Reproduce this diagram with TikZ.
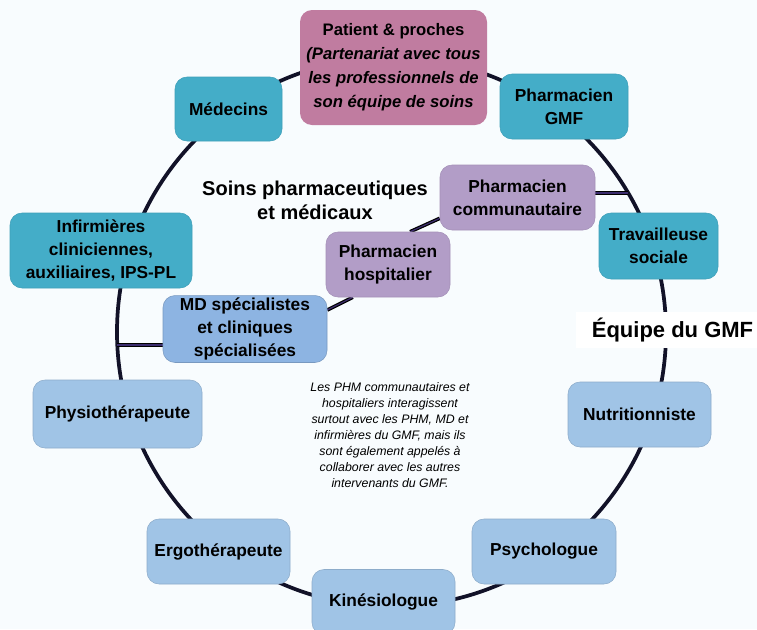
\documentclass[tikz,border=0pt]{standalone}
\usepackage{fontspec}
\setmainfont{Liberation Sans}
\usetikzlibrary{backgrounds}
\definecolor{pagebg}{RGB}{248,252,254}
\definecolor{gmfteal}{RGB}{68,173,200}
\definecolor{patientrose}{RGB}{192,124,160}
\definecolor{pharmpurple}{RGB}{178,157,199}
\definecolor{specblue}{RGB}{141,180,226}
\definecolor{alliedblue}{RGB}{160,196,230}
\definecolor{ringnavy}{RGB}{18,18,40}
\definecolor{linkpurple}{RGB}{60,45,110}
\begin{document}
\begin{tikzpicture} [
                x=0.75pt, y=-0.75pt,
                box/.style={rectangle,rounded corners=9pt,align=center,inner sep=2pt,
                    font=\bfseries\fontsize{13}{17}\selectfont},
                gmf/.style={box,fill=gmfteal,draw=gmfteal!92!black,line width=0.4pt},
                pharm/.style={box,fill=pharmpurple,draw=pharmpurple!92!black,line width=0.4pt},
                spec/.style={box,fill=specblue,draw=specblue!85!black,line width=0.4pt},
                allied/.style={box,fill=alliedblue,draw=alliedblue!88!black,line width=0.4pt},
                ring/.style={draw=ringnavy,line width=2.8pt},
                link/.style={draw=black,line width=0.9pt,double=linkpurple,double distance=0.9pt},
            ]
            \useasboundingbox (0,0) rectangle (757,629);
            % Patient in the middle of the team
            \node[box,fill=patientrose,minimum width=140.25pt,minimum height=86.25pt,
                font=\bfseries\fontsize{12.5}{18}\selectfont] (patient) at (393.5,67.5)
                {Patient \& proches\\\textit{(Partenariat avec tous}\\
                 \textit{les professionnels de}\\\textit{son équipe de soins}};
            % First we draw the team members
            \foreach \pos/\name/\kind/\w/\h/\txt in {
                    {(228.5,109)/medecins/gmf/80.25/48/{Médecins}},
                    {(564,106.5)/pharmgmf/gmf/96/48.75/{Pharmacien\\GMF}},
                    {(658.5,246)/travsoc/gmf/89.25/49.5/{Travailleuse\\sociale}},
                    {(101,250.5)/infirm/gmf/136.5/56.25/{Infirmières\\cliniciennes,\\auxiliaires, IPS-PL}},
                    {(517.5,197.5)/com/pharm/116.25/48.75/{Pharmacien\\communautaire}},
                    {(388,264.5)/hosp/pharm/93/48.75/{Pharmacien\\hospitalier}},
                    {(245,329)/mdspec/spec/123/49.5/{MD spécialistes\\et cliniques\\spécialisées}},
                    {(117.5,414)/physio/allied/126.75/51/{Physiothérapeute}},
                    {(639.5,414.5)/nutri/allied/107.25/48.75/{Nutritionniste}},
                    {(218.5,551.5)/ergo/allied/107.25/48.75/{Ergothérapeute}},
                    {(544,551.5)/psycho/allied/108/48.75/{Psychologue}},
                    {(383.5,602)/kine/allied/107.25/48.75/{Kinésiologue}}}
                \node[\kind,minimum width=\w pt,minimum height=\h pt] (\name) at \pos {\txt};
            % Labels
            \node[align=center,font=\bfseries\fontsize{15}{18}\selectfont] (soins) at (315,200)
                {Soins pharmaceutiques\\et médicaux};
            \node[fill=white,minimum width=144.75pt,minimum height=27pt,
                font=\bfseries\fontsize{16.5}{20}\selectfont] (equipe) at (672.5,330) {Équipe du GMF};
            \node[align=center,font=\itshape\fontsize{9.25}{12}\selectfont] (note) at (390,435)
                {Les PHM communautaires et\\hospitaliers interagissent\\surtout avec les PHM, MD et\\
                 infirmières du GMF, mais ils\\sont également appelés à\\collaborer avec les autres\\
                 intervenants du GMF.};
            % Ring of the team and the pharmacy link behind the boxes
            \begin{pgfonlayer}{background}
                \fill[pagebg] (0,0) rectangle (757,629);
                \coordinate (hub) at (391.5,332);
                \coordinate (inL) at (117.3,345);
                \coordinate (inR) at (628.2,193);
                \path[ring] (hub) circle[radius=205.875pt];
                \path[link] (inL) -- (inL -| mdspec.west);
                \path[link] (mdspec.13) -- (hosp.223);
                \path[link] (hosp.56) -- (com.195);
                \path[link] (com.east |- inR) -- (inR);
            \end{pgfonlayer}
        \end{tikzpicture}
\end{document}
